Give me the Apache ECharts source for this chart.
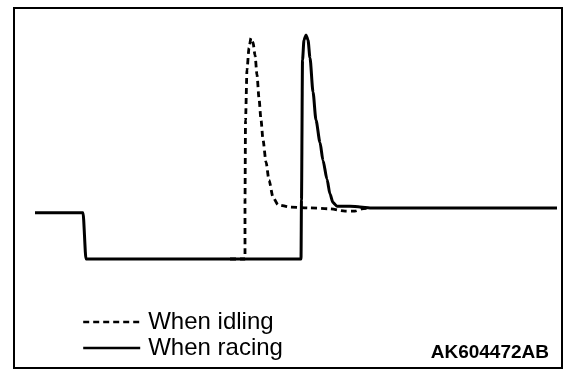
<!DOCTYPE html>
<html>
<head>
<meta charset="utf-8">
<script src="https://cdn.jsdelivr.net/npm/echarts@6/dist/echarts.min.js"></script>
<style>
html,body{margin:0;padding:0;background:#fff;}
#c{width:576px;height:374px;}
</style>
</head>
<body>
<div id="c"></div>
<script>
// Time (arbitrary units, 0..100) and signal level (arbitrary units, 0..5)
var racingT = [0, 9.2, 9.77, 50.96, 51.05, 51.25, 51.53, 51.92, 52.3, 52.68, 53.26, 53.83, 54.6, 55.17, 55.94, 56.51, 57.09, 57.85, 60.34, 62.26, 64.18, 100];
var racingV = [1.03, 1.03, 0, 0, 1.32, 4.44, 4.89, 5.0, 4.89, 4.49, 3.73, 3.1, 2.6, 2.2, 1.78, 1.45, 1.26, 1.18, 1.18, 1.16, 1.14, 1.14];

var idlingT = [37.36, 40.23, 40.23, 40.33, 40.61, 41.0, 41.38, 41.76, 42.15, 42.53, 42.91, 43.3, 43.68, 44.25, 44.83, 45.59, 46.55, 48.85, 52.68, 56.51, 59.39, 61.3, 62.64, 64.18];
var idlingV = [0, 0, 1.32, 3.1, 4.22, 4.71, 4.93, 4.84, 4.55, 4.11, 3.59, 3.1, 2.66, 2.17, 1.76, 1.38, 1.21, 1.16, 1.14, 1.12, 1.07, 1.07, 1.12, 1.14];

var seriesNames = ['When idling', 'When racing'];
var codeLabel = 'AK604472AB';

function pairs(t, v) { return t.map(function (x, i) { return [x, v[i]]; }); }

var chart = echarts.init(document.getElementById('c'), null, {renderer: 'canvas'});
chart.setOption({
  animation: false,
  backgroundColor: '#ffffff',
  grid: {left: 35, right: 19, top: 35, bottom: 115},
  xAxis: {type: 'value', min: 0, max: 100, show: false},
  yAxis: {type: 'value', min: 0, max: 5, show: false},
  legend: {
    orient: 'vertical',
    left: 77,
    top: 305,
    itemWidth: 57,
    itemHeight: 14,
    itemGap: 2,
    data: seriesNames,
    itemStyle: {opacity: 0},
    lineStyle: {width: 2.4},
    textStyle: {fontFamily: 'Liberation Sans, Arial, sans-serif', fontSize: 24, color: '#000', padding: [0, 0, 0, 3]}
  },
  graphic: [
    {type: 'rect', shape: {x: 14, y: 8, width: 548, height: 360}, style: {fill: 'none', stroke: '#000', lineWidth: 2}, silent: true},
    {type: 'text', right: 27, top: 343, style: {text: codeLabel, font: 'bold 19px "Liberation Sans", Arial, sans-serif', fill: '#000'}}
  ],
  series: [
    {
      name: seriesNames[0], type: 'line', data: pairs(idlingT, idlingV),
      symbol: 'none', clip: false, z: 2,
      smooth: 0.25, smoothMonotone: 'x',
      lineStyle: {color: '#000', width: 2.8, type: [6, 4]},
      itemStyle: {color: '#000'}
    },
    {
      name: seriesNames[1], type: 'line', data: pairs(racingT, racingV),
      symbol: 'none', clip: false, z: 3,
      smooth: 0.25, smoothMonotone: 'x',
      lineStyle: {color: '#000', width: 3, type: 'solid'},
      itemStyle: {color: '#000'}
    }
  ]
});
</script>
</body>
</html>
